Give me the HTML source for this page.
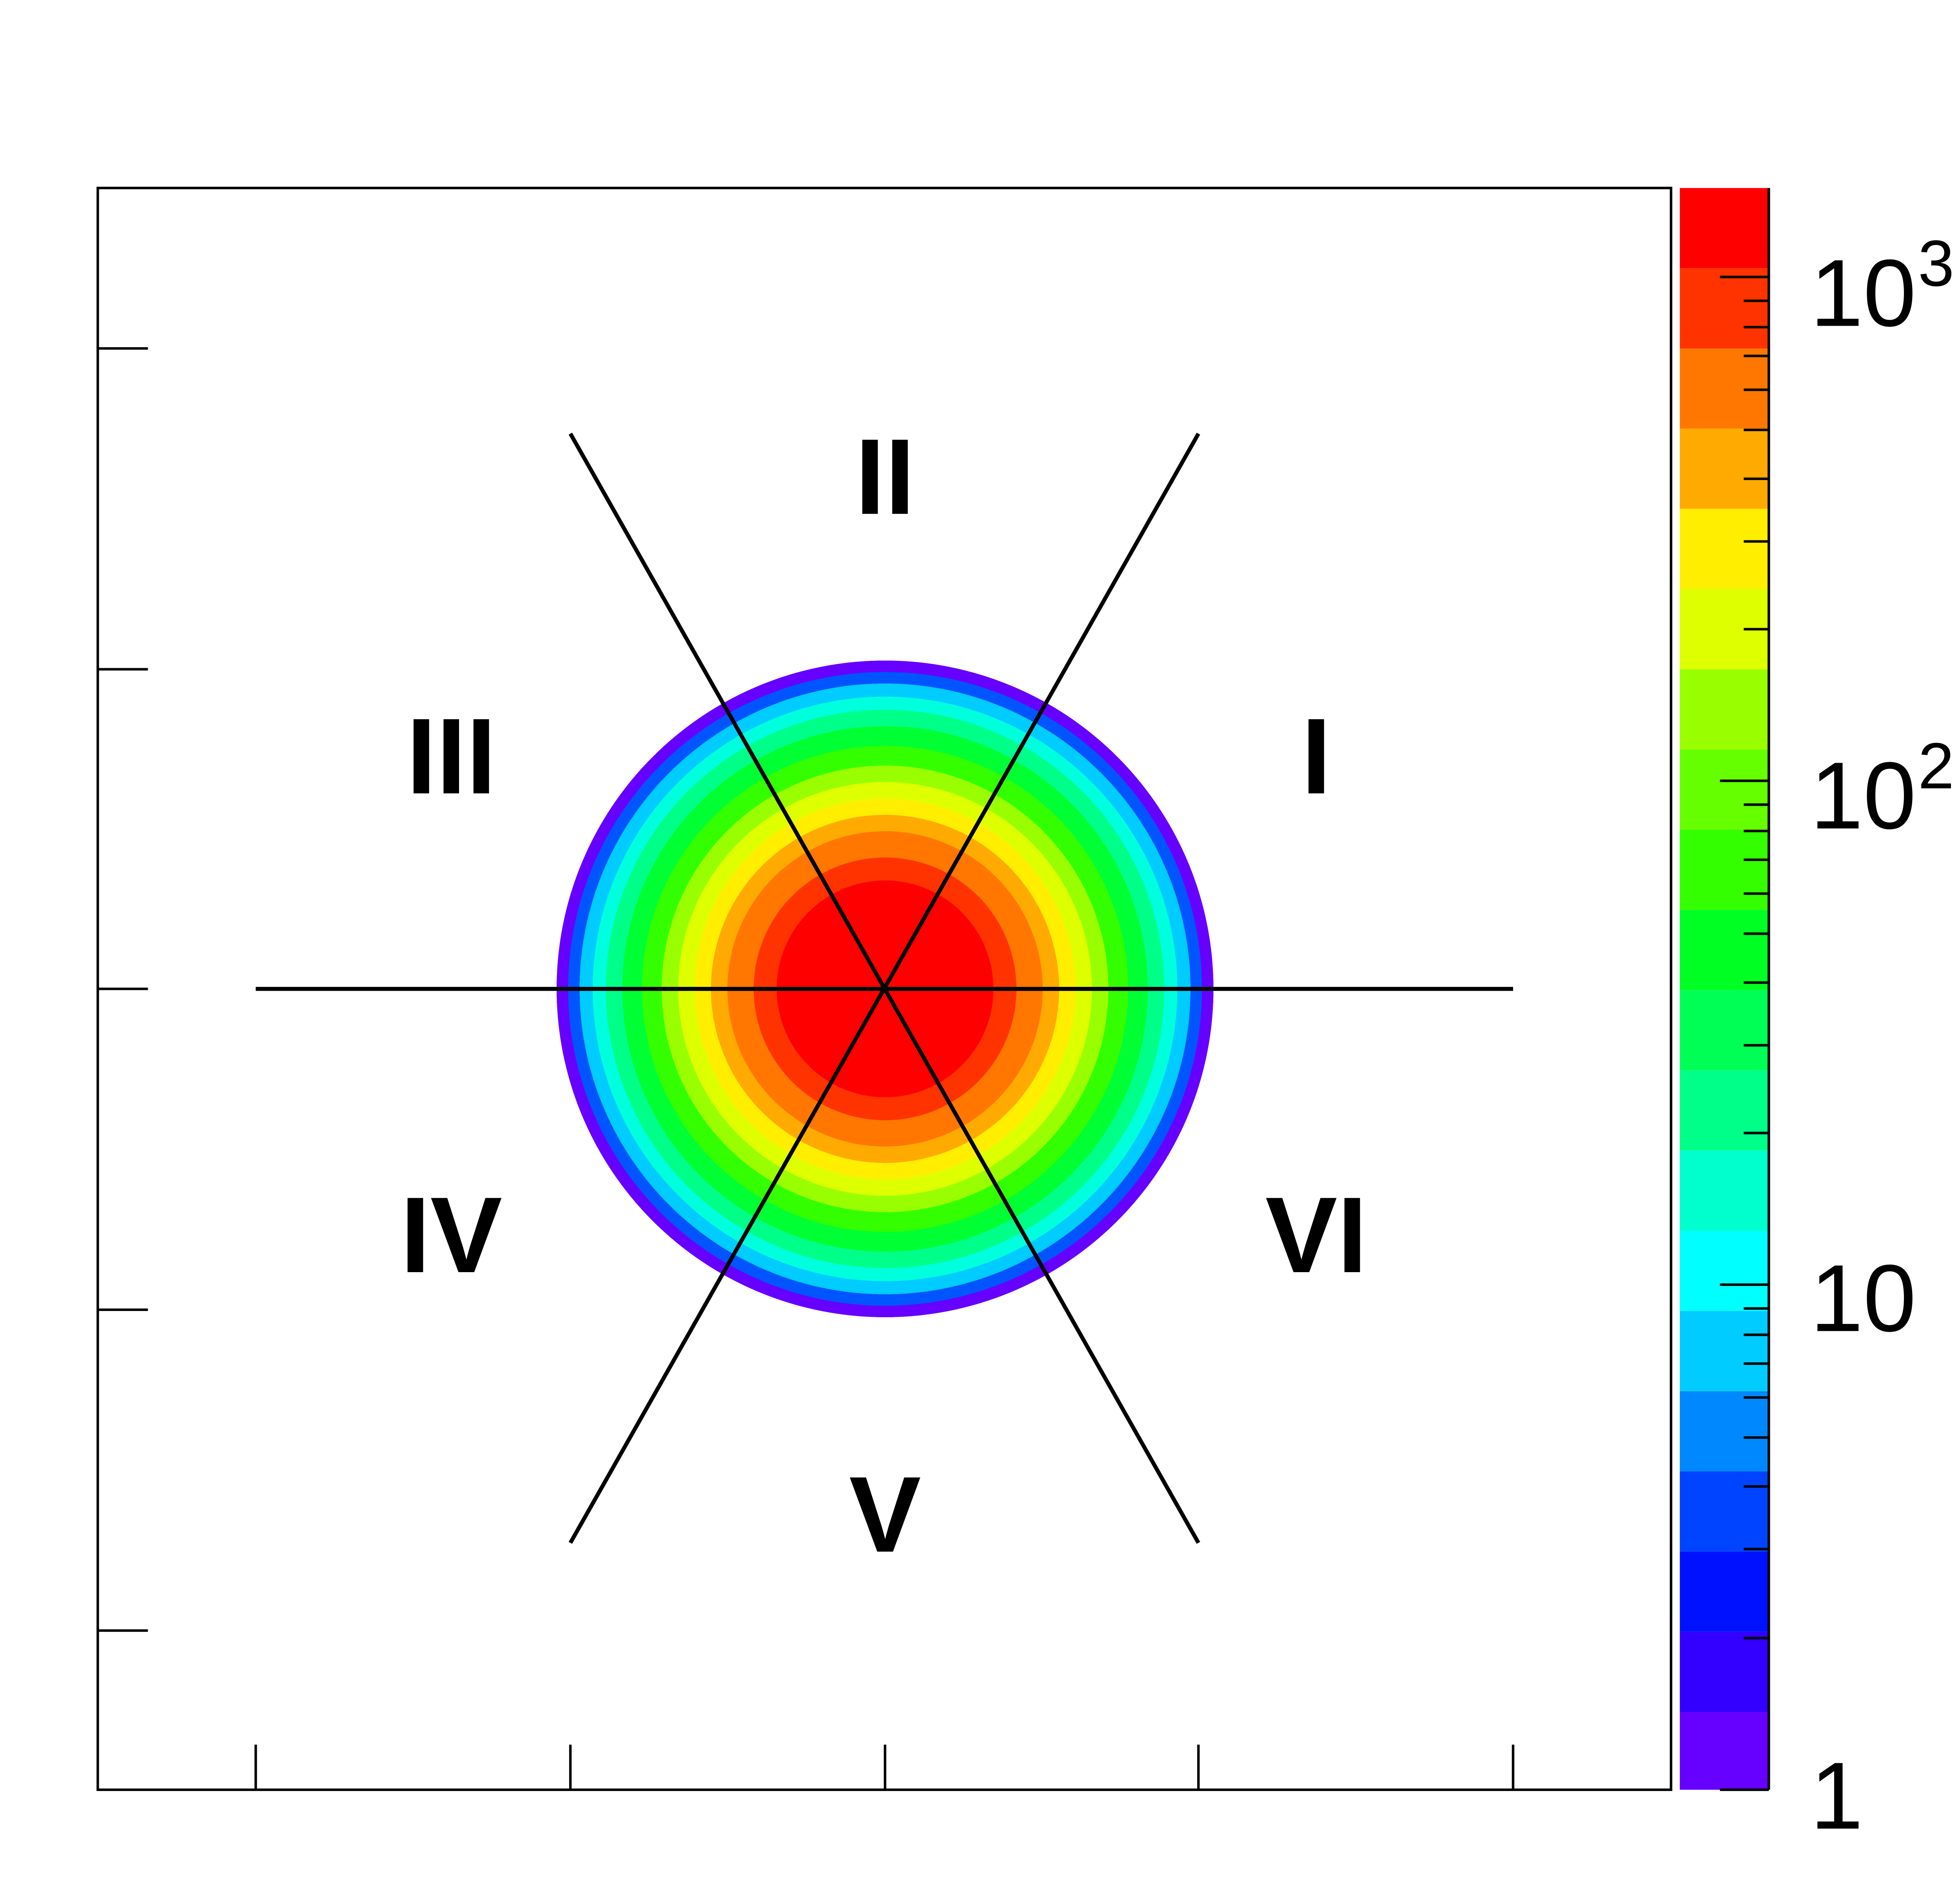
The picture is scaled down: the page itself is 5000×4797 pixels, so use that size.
<!DOCTYPE html>
<html><head><meta charset="utf-8"><style>html,body{margin:0;padding:0;background:#fff}svg{display:block}</style></head>
<body>
<svg width="5000" height="4797" viewBox="0 0 1563.5 1500" preserveAspectRatio="none" xmlns="http://www.w3.org/2000/svg">
<defs>
<radialGradient id="g" cx="706" cy="789" r="262" gradientUnits="userSpaceOnUse">
<stop offset="0" stop-color="#ff0000"/><stop offset="0.33" stop-color="#ff0000"/>
<stop offset="0.33" stop-color="#ff3300"/><stop offset="0.40" stop-color="#ff3300"/>
<stop offset="0.40" stop-color="#ff7700"/><stop offset="0.48" stop-color="#ff7700"/>
<stop offset="0.48" stop-color="#ffaa00"/><stop offset="0.53" stop-color="#ffaa00"/>
<stop offset="0.53" stop-color="#ffee00"/><stop offset="0.58" stop-color="#ffee00"/>
<stop offset="0.58" stop-color="#ddff00"/><stop offset="0.63" stop-color="#ddff00"/>
<stop offset="0.63" stop-color="#99ff00"/><stop offset="0.68" stop-color="#99ff00"/>
<stop offset="0.68" stop-color="#33ff00"/><stop offset="0.74" stop-color="#33ff00"/>
<stop offset="0.74" stop-color="#00ff33"/><stop offset="0.80" stop-color="#00ff33"/>
<stop offset="0.80" stop-color="#00ff88"/><stop offset="0.85" stop-color="#00ff88"/>
<stop offset="0.85" stop-color="#00ffdd"/><stop offset="0.89" stop-color="#00ffdd"/>
<stop offset="0.89" stop-color="#00ccff"/><stop offset="0.93" stop-color="#00ccff"/>
<stop offset="0.93" stop-color="#0055ff"/><stop offset="0.965" stop-color="#0055ff"/>
<stop offset="0.965" stop-color="#6600ff"/><stop offset="1" stop-color="#6600ff"/>
<stop offset="1" stop-color="#fff" stop-opacity="0"/>
</radialGradient>
</defs>
<rect width="1563.5" height="1500" fill="#fff"/>
<circle cx="706" cy="789" r="262" fill="url(#g)"/>
<rect x="78" y="150" width="1255" height="1278" fill="none" stroke="#000" stroke-width="2"/>
<g stroke="#000" stroke-width="2">
<line x1="78" y1="278" x2="118" y2="278"/><line x1="78" y1="534" x2="118" y2="534"/>
<line x1="78" y1="789" x2="118" y2="789"/><line x1="78" y1="1045" x2="118" y2="1045"/>
<line x1="78" y1="1301" x2="118" y2="1301"/>
<line x1="204" y1="1428" x2="204" y2="1392"/><line x1="455" y1="1428" x2="455" y2="1392"/>
<line x1="706" y1="1428" x2="706" y2="1392"/><line x1="956" y1="1428" x2="956" y2="1392"/>
<line x1="1207" y1="1428" x2="1207" y2="1392"/>
</g>
<g stroke="#000" stroke-width="3.2">
<line x1="204" y1="789" x2="1207" y2="789"/>
<line x1="455" y1="346" x2="956" y2="1231"/>
<line x1="956" y1="346" x2="455" y2="1231"/>
</g>
<g font-family="Liberation Sans, sans-serif" font-weight="bold" font-size="86" text-anchor="middle">
<text x="706" y="410">II</text><text x="360" y="633">III</text><text x="1050" y="633">I</text>
<text x="360" y="1015">IV</text><text x="1050" y="1015">VI</text><text x="706" y="1238">V</text>
</g>
<g>
<rect x="1340" y="150" width="71" height="64" fill="#ff0000"/>
<rect x="1340" y="214" width="71" height="64" fill="#ff3300"/>
<rect x="1340" y="278" width="71" height="64" fill="#ff7700"/>
<rect x="1340" y="342" width="71" height="64" fill="#ffaa00"/>
<rect x="1340" y="406" width="71" height="64" fill="#ffee00"/>
<rect x="1340" y="470" width="71" height="64" fill="#ddff00"/>
<rect x="1340" y="534" width="71" height="64" fill="#99ff00"/>
<rect x="1340" y="598" width="71" height="64" fill="#66ff00"/>
<rect x="1340" y="662" width="71" height="64" fill="#33ff00"/>
<rect x="1340" y="726" width="71" height="64" fill="#00ff22"/>
<rect x="1340" y="790" width="71" height="64" fill="#00ff55"/>
<rect x="1340" y="854" width="71" height="64" fill="#00ff88"/>
<rect x="1340" y="918" width="71" height="64" fill="#00ffcc"/>
<rect x="1340" y="982" width="71" height="64" fill="#00ffff"/>
<rect x="1340" y="1046" width="71" height="64" fill="#00ccff"/>
<rect x="1340" y="1110" width="71" height="64" fill="#0088ff"/>
<rect x="1340" y="1174" width="71" height="64" fill="#0044ff"/>
<rect x="1340" y="1238" width="71" height="64" fill="#0011ff"/>
<rect x="1340" y="1302" width="71" height="64" fill="#3300ff"/>
<rect x="1340" y="1366" width="71" height="62" fill="#6600ff"/>
</g>
<g stroke="#000" stroke-width="2">
<line x1="1411" y1="150" x2="1411" y2="1428"/>
<line x1="1411" y1="1428" x2="1372" y2="1428"/><line x1="1411" y1="1025" x2="1372" y2="1025"/>
<line x1="1411" y1="623" x2="1372" y2="623"/><line x1="1411" y1="221" x2="1372" y2="221"/>
<line x1="1411" y1="1307" x2="1391" y2="1307"/><line x1="1411" y1="1236" x2="1391" y2="1236"/>
<line x1="1411" y1="1186" x2="1391" y2="1186"/><line x1="1411" y1="1147" x2="1391" y2="1147"/>
<line x1="1411" y1="1115" x2="1391" y2="1115"/><line x1="1411" y1="1088" x2="1391" y2="1088"/>
<line x1="1411" y1="1065" x2="1391" y2="1065"/><line x1="1411" y1="1044" x2="1391" y2="1044"/>
<line x1="1411" y1="904" x2="1391" y2="904"/><line x1="1411" y1="834" x2="1391" y2="834"/>
<line x1="1411" y1="784" x2="1391" y2="784"/><line x1="1411" y1="745" x2="1391" y2="745"/>
<line x1="1411" y1="713" x2="1391" y2="713"/><line x1="1411" y1="686" x2="1391" y2="686"/>
<line x1="1411" y1="663" x2="1391" y2="663"/><line x1="1411" y1="642" x2="1391" y2="642"/>
<line x1="1411" y1="502" x2="1391" y2="502"/><line x1="1411" y1="432" x2="1391" y2="432"/>
<line x1="1411" y1="382" x2="1391" y2="382"/><line x1="1411" y1="343" x2="1391" y2="343"/>
<line x1="1411" y1="311" x2="1391" y2="311"/><line x1="1411" y1="284" x2="1391" y2="284"/>
<line x1="1411" y1="261" x2="1391" y2="261"/><line x1="1411" y1="240" x2="1391" y2="240"/>
</g>
<g font-family="Liberation Sans, sans-serif" font-size="76">
<text x="1444" y="260">10</text><text x="1530" y="228" font-size="52">3</text>
<text x="1444" y="661">10</text><text x="1530" y="629" font-size="52">2</text>
<text x="1444" y="1062">10</text>
<text x="1444" y="1459">1</text>
</g>
</svg>
</body></html>
